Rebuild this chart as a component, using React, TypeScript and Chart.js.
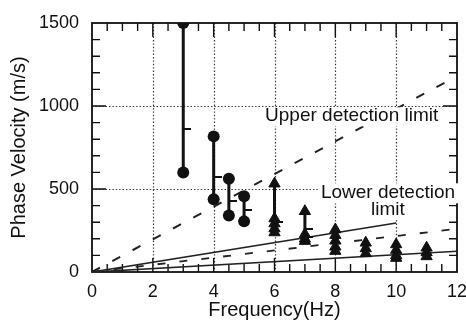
import React, { useEffect, useRef } from 'react';
import { Chart, registerables } from 'chart.js';

Chart.register(...registerables);

// ---- data ----
const xTickValues = [0, 2, 4, 6, 8, 10, 12];
const yTickValues = [0, 500, 1000, 1500];
const xGridValues = [2, 4, 6, 8, 10];
const yGridValues = [500, 1000];

// measured ranges (circles)
const circleFreqs = [3, 4, 4.5, 5];
const circleTop = [1500, 817, 562, 456];
const circleBottom = [600, 438, 341, 305];
const circleMid = [860, 572, 428, 372];

// lower-bound estimates (triangles)
const triFreqs = [6, 7, 8, 9, 10, 11];
const triValues = [
  [532, 322, 292, 262, 238],
  [366, 228, 200, 186],
  [256, 222, 188, 152, 126],
  [176, 142, 112],
  [166, 132, 100, 84],
  [146, 118, 94],
];
const triLineLow = [220, 170, 110, 95, 75, 75];
const triMidFreqs = [6, 7, 7];
const triMidValues = [301, 261, 211];

// detection limit lines
const upperLimitX = [0, 12];
const upperLimitY = [0, 1180];
const lowerLimitAX = [0, 10];
const lowerLimitAY = [0, 295];
const lowerLimitBX = [0, 12];
const lowerLimitBY = [0, 260];
const lowerLimitCX = [0, 12];
const lowerLimitCY = [0, 125];

// annotations
const upperLabel = 'Upper detection limit';
const upperLabelPos = [5.69, 911];
const lowerLabelLines = ['Lower detection', 'limit'];
const lowerLabelPos = [9.73, 444, 343];

const FONT = '"Liberation Sans", Arial, Helvetica, sans-serif';
const INK = '#111';

function makeTickImage(): HTMLCanvasElement {
  const c = document.createElement('canvas');
  c.width = 16;
  c.height = 2;
  const g = c.getContext('2d')!;
  g.fillStyle = INK;
  g.fillRect(8, 0, 8, 2);
  return c;
}

const framePlugin = {
  id: 'frame',
  beforeDatasetsDraw(chart: any) {
    const { ctx, chartArea: a, scales } = chart;
    const x = scales.x;
    const y = scales.y;
    ctx.save();
    // dotted grid
    ctx.strokeStyle = '#333';
    ctx.lineWidth = 1.2;
    ctx.setLineDash([1.4, 2]);
    ctx.beginPath();
    for (const v of xGridValues) {
      const p = Math.round(x.getPixelForValue(v)) + 0.5;
      ctx.moveTo(p, a.top);
      ctx.lineTo(p, a.bottom);
    }
    for (const v of yGridValues) {
      const p = Math.round(y.getPixelForValue(v)) + 0.5;
      ctx.moveTo(a.left, p);
      ctx.lineTo(a.right, p);
    }
    ctx.stroke();
    ctx.setLineDash([]);
    // inner ticks on all four sides
    ctx.strokeStyle = INK;
    ctx.lineWidth = 1.4;
    ctx.beginPath();
    for (let i = 1; i < 24; i++) {
      const v = i * 0.5;
      const L = i % 4 === 0 ? 14 : 8;
      const p = x.getPixelForValue(v);
      ctx.moveTo(p, a.bottom);
      ctx.lineTo(p, a.bottom - L);
      ctx.moveTo(p, a.top);
      ctx.lineTo(p, a.top + L);
    }
    for (let i = 1; i < 15; i++) {
      const v = i * 100;
      const L = i % 5 === 0 ? 14 : 8;
      const p = y.getPixelForValue(v);
      ctx.moveTo(a.left, p);
      ctx.lineTo(a.left + L, p);
      ctx.moveTo(a.right, p);
      ctx.lineTo(a.right - L, p);
    }
    ctx.stroke();
    ctx.lineWidth = 1.8;
    ctx.strokeRect(a.left, a.top, a.right - a.left, a.bottom - a.top);
    ctx.restore();
  },
  afterDatasetsDraw(chart: any) {
    const { ctx, scales } = chart;
    const x = scales.x;
    const y = scales.y;
    ctx.save();
    ctx.font = `19px ${FONT}`;
    ctx.textBaseline = 'alphabetic';
    // upper label
    const ux = x.getPixelForValue(upperLabelPos[0]);
    const uy = y.getPixelForValue(upperLabelPos[1]);
    const uw = ctx.measureText(upperLabel).width;
    ctx.fillStyle = '#fff';
    ctx.fillRect(ux - 3, uy - 13.5, uw + 6, 19);
    ctx.fillStyle = '#111';
    ctx.textAlign = 'left';
    ctx.fillText(upperLabel, ux, uy);
    // lower label
    const lx = x.getPixelForValue(lowerLabelPos[0]);
    const ly1 = y.getPixelForValue(lowerLabelPos[1]);
    const ly2 = y.getPixelForValue(lowerLabelPos[2]);
    const w1 = ctx.measureText(lowerLabelLines[0]).width;
    const w2 = ctx.measureText(lowerLabelLines[1]).width;
    ctx.fillStyle = '#fff';
    ctx.fillRect(lx - w1 / 2 - 3, ly1 - 15, w1 + 6, 20);
    ctx.fillRect(lx - w2 / 2 - 3, ly2 - 15, w2 + 6, 19);
    ctx.fillStyle = '#111';
    ctx.textAlign = 'center';
    ctx.fillText(lowerLabelLines[0], lx, ly1);
    ctx.fillText(lowerLabelLines[1], lx, ly2);
    ctx.restore();
  },
};

function toPoints(xs: number[], ys: number[]) {
  return xs.map((v, i) => ({ x: v, y: ys[i] }));
}

export default function App() {
  const canvasRef = useRef<HTMLCanvasElement | null>(null);

  useEffect(() => {
    document.body.style.margin = '0';
    const canvas = canvasRef.current;
    if (!canvas) return;

    const tickImg = makeTickImage();

    // vertical range segments, separated by gaps
    const segs: any[] = [];
    circleFreqs.forEach((f, i) => {
      segs.push({ x: f, y: circleBottom[i] });
      segs.push({ x: f, y: circleTop[i] });
      segs.push({ x: f, y: null });
    });
    triFreqs.forEach((f, i) => {
      segs.push({ x: f, y: triLineLow[i] });
      segs.push({ x: f, y: Math.max(...triValues[i]) });
      segs.push({ x: f, y: null });
    });

    const circlePts: any[] = [];
    circleFreqs.forEach((f, i) => {
      circlePts.push({ x: f, y: circleTop[i] });
      circlePts.push({ x: f, y: circleBottom[i] });
    });
    const midPts: any[] = circleFreqs.map((f, i) => ({ x: f, y: circleMid[i] }));
    triMidFreqs.forEach((f, i) => midPts.push({ x: f, y: triMidValues[i] }));

    const triPts: any[] = [];
    triFreqs.forEach((f, i) => triValues[i].forEach((v) => triPts.push({ x: f, y: v })));

    const lineDs = (data: any[], dash: number[], width: number) => ({
      type: 'line',
      data,
      showLine: true,
      borderColor: '#222',
      borderWidth: width,
      borderDash: dash,
      pointRadius: 0,
      fill: false,
      order: 5,
    });

    const chart = new Chart(canvas, {
      type: 'scatter',
      data: {
        datasets: [
          lineDs(toPoints(upperLimitX, upperLimitY), [9, 14], 2),
          lineDs(toPoints(lowerLimitAX, lowerLimitAY), [], 1.7),
          lineDs(toPoints(lowerLimitBX, lowerLimitBY), [8, 14], 1.8),
          lineDs(toPoints(lowerLimitCX, lowerLimitCY), [], 1.7),
          {
            type: 'line',
            data: segs,
            showLine: true,
            spanGaps: false,
            borderColor: INK,
            borderWidth: 3,
            pointRadius: 0,
            fill: false,
            order: 4,
          } as any,
          {
            data: midPts,
            pointStyle: tickImg as any,
            pointRadius: 4,
            order: 3,
          },
          {
            data: circlePts,
            pointStyle: 'circle',
            pointRadius: 6,
            backgroundColor: INK,
            borderColor: INK,
            borderWidth: 0,
            order: 2,
          },
          {
            data: triPts,
            pointStyle: 'triangle',
            pointRadius: 6.5,
            backgroundColor: INK,
            borderColor: INK,
            borderWidth: 1,
            order: 1,
          },
        ] as any,
      },
      options: {
        animation: false,
        responsive: false,
        devicePixelRatio: 1,
        layout: { padding: { top: 23, right: 9, left: 0, bottom: 0 } },
        plugins: { legend: { display: false }, tooltip: { enabled: false } },
        scales: {
          x: {
            type: 'linear',
            min: 0,
            max: 12,
            afterBuildTicks: (s: any) => {
              s.ticks = xTickValues.map((v) => ({ value: v }));
            },
            afterFit: (s: any) => {
              s.height = 54;
              s.paddingLeft = 0;
              s.paddingRight = 0;
            },
            grid: { display: false, drawTicks: false },
            border: { display: false },
            ticks: {
              padding: 9,
              color: '#111',
              font: { family: FONT, size: 18 },
              maxRotation: 0,
              autoSkip: false,
              callback: (v: any) => String(v),
            },
            title: {
              display: true,
              text: 'Frequency(Hz)',
              color: '#111',
              font: { family: FONT, size: 20 },
              padding: { top: 0, bottom: 4 },
            },
          },
          y: {
            type: 'linear',
            min: 0,
            max: 1500,
            afterBuildTicks: (s: any) => {
              s.ticks = yTickValues.map((v) => ({ value: v }));
            },
            afterFit: (s: any) => {
              s.width = 92;
              s.paddingTop = 0;
              s.paddingBottom = 0;
            },
            grid: { display: false, drawTicks: false },
            border: { display: false },
            ticks: {
              padding: 13,
              color: '#111',
              font: { family: FONT, size: 18 },
              autoSkip: false,
              callback: (v: any) => String(v),
            },
            title: {
              display: true,
              text: 'Phase Velocity (m/s)',
              color: '#111',
              font: { family: FONT, size: 20 },
              padding: { top: 7, bottom: 0 },
            },
          },
        },
      } as any,
      plugins: [framePlugin],
    });

    return () => chart.destroy();
  }, []);

  return (
    <div style={{ width: 466, height: 326 }}>
      <canvas ref={canvasRef} width={466} height={326} />
    </div>
  );
}
